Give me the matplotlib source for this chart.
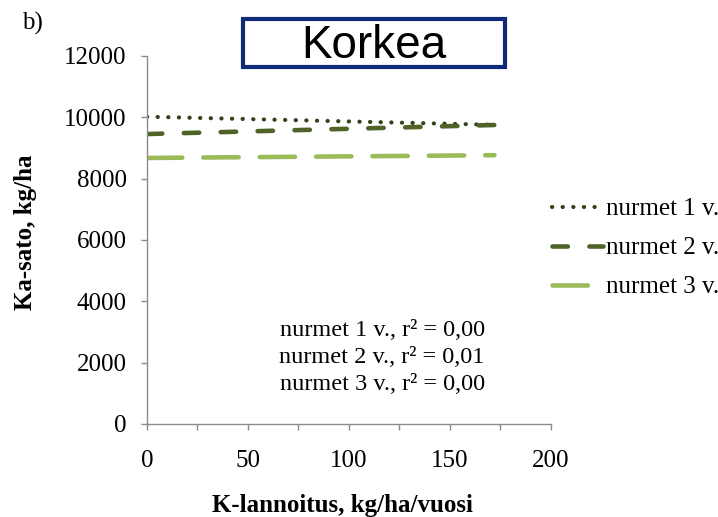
import matplotlib
matplotlib.use('Agg')
import matplotlib.pyplot as plt
from matplotlib.patches import Rectangle

# trend lines (linear), end points
labels = ['nurmet 1 v.', 'nurmet 2 v.', 'nurmet 3 v.']
x_start = [0, 0, 0]
x_end = [172, 172, 172]
y_start = [10020, 9455, 8675]
y_end = [9755, 9750, 8765]
r2_text = ['0,00', '0,01', '0,00']

x_ticks = [0, 50, 100, 150, 200]
x_minor = [25, 75, 125, 175]
y_ticks = [0, 2000, 4000, 6000, 8000, 10000, 12000]

colors = ['#33421d', '#4f6228', '#9bbb59']
styles = [(0, (0.05, 2.5)), (0, (3.35, 4.7)), (0, (7.7, 4.6))]
widths = [3.0, 3.3, 3.3]

plt.rcParams['font.family'] = ['Liberation Serif', 'DejaVu Serif']

fig = plt.figure(figsize=(7.18, 5.17), dpi=100)
ax = fig.add_axes([0.2047, 0.1799, 0.5627, 0.7118])

for i in range(3):
    ax.plot([x_start[i], x_end[i]], [y_start[i], y_end[i]], color=colors[i], lw=widths[i],
            linestyle=styles[i], dash_capstyle='round', label=labels[i])

ax.set_xlim(0, 200)
ax.set_ylim(0, 12000)
ax.set_xticks(x_ticks)
ax.set_xticks(x_minor, minor=True)
ax.set_yticks(y_ticks)
for s in ['top', 'right']:
    ax.spines[s].set_visible(False)
for s in ['left', 'bottom']:
    ax.spines[s].set_color('#8c8c8c')
    ax.spines[s].set_linewidth(1.0)
ax.tick_params(axis='both', which='both', color='#8c8c8c', length=4.5, width=1.0, labelsize=18)
ax.tick_params(axis='x', pad=14)
ax.tick_params(axis='y', pad=10)

ax.set_xlabel('K-lannoitus, kg/ha/vuosi', fontsize=18, fontweight='bold')
ax.set_ylabel('Ka-sato, kg/ha', fontsize=18, fontweight='bold')
ax.xaxis.set_label_coords(0.484, -0.19)
ax.yaxis.set_label_coords(-0.272, 0.522)

txt = '\n'.join('{} v., r² = {}'.format(l[:-3], r) for l, r in zip(labels, r2_text))
ax.text(0.582, 0.18, txt, transform=ax.transAxes, ha='center', va='center',
        fontsize=17.5, linespacing=1.36)

ax.legend(loc='center left', bbox_to_anchor=(1.002, 0.478), frameon=False,
          fontsize=18, handlelength=2.05, handletextpad=0.1, labelspacing=0.66,
          borderaxespad=0, borderpad=0)

fig.text(0.031, 0.955, 'b)', fontsize=18, ha='left', va='center')

fig.patches.append(Rectangle((0.339, 0.871), 0.364, 0.093, transform=fig.transFigure,
                             facecolor='white', edgecolor='#0e2a78', lw=3.0))
fig.text(0.521, 0.911, 'Korkea', fontsize=33, ha='center', va='center',
         family=['Liberation Sans', 'DejaVu Sans'])

fig.savefig('out.png', dpi=100)
